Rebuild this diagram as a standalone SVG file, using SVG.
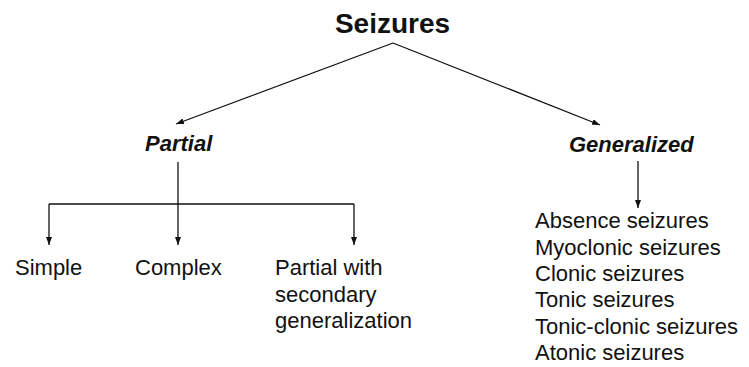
<svg xmlns="http://www.w3.org/2000/svg" width="749" height="367" viewBox="0 0 749 367">
<defs>
<style>
.t{font-family:"Liberation Sans",Arial,sans-serif;fill:#111;}
.title{font-size:28px;font-weight:bold;}
.cat{font-size:22px;font-weight:bold;font-style:italic;}
.lbl{font-size:22px;}
.c{stroke:#111;stroke-width:1.3;fill:none;}
</style>
<marker id="ah" markerWidth="8" markerHeight="6" refX="8" refY="3" orient="auto" markerUnits="userSpaceOnUse">
<path d="M0,0 L8,3 L0,6 z" fill="#111"/>
</marker>
</defs>
<rect width="749" height="367" fill="#fff"/>
<g id="connectors">
<line class="c" x1="393" y1="43" x2="176" y2="124" marker-end="url(#ah)"/>
<line class="c" x1="393" y1="43" x2="600" y2="125" marker-end="url(#ah)"/>
<line class="c" x1="178" y1="162" x2="178" y2="245" marker-end="url(#ah)"/>
<line class="c" x1="49" y1="204" x2="354" y2="204"/>
<line class="c" x1="49" y1="204" x2="49" y2="245" marker-end="url(#ah)"/>
<line class="c" x1="354" y1="204" x2="354" y2="245" marker-end="url(#ah)"/>
<line class="c" x1="638" y1="161" x2="638" y2="208" marker-end="url(#ah)"/>
</g>
<g id="seizures"><text class="t title" x="392.5" y="33" text-anchor="middle">Seizures</text></g>
<g id="partial"><text class="t cat" x="145" y="151">Partial</text></g>
<g id="generalized"><text class="t cat" x="569" y="152">Generalized</text></g>
<g id="simple"><text class="t lbl" x="15" y="275">Simple</text></g>
<g id="complex"><text class="t lbl" x="135" y="275">Complex</text></g>
<g id="partial-secondary"><text class="t lbl" x="275" y="275">Partial with<tspan x="275" y="301.5">secondary</tspan><tspan x="275" y="328">generalization</tspan></text></g>
<g id="generalized-list"><text class="t lbl" x="535" y="228">Absence seizures<tspan x="535" y="254.5">Myoclonic seizures</tspan><tspan x="535" y="281">Clonic seizures</tspan><tspan x="535" y="307">Tonic seizures</tspan><tspan x="535" y="333.5">Tonic-clonic seizures</tspan><tspan x="535" y="360">Atonic seizures</tspan></text></g>
</svg>
